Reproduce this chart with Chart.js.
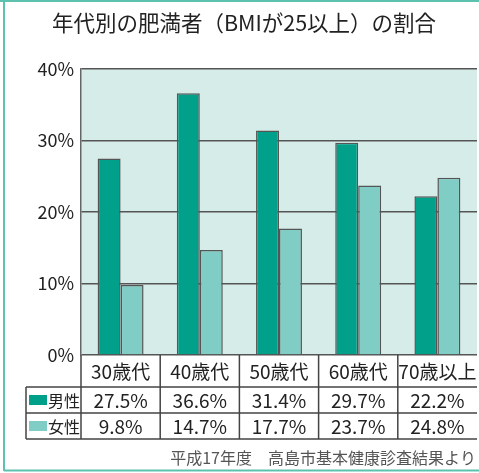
<!DOCTYPE html>
<html>
<head>
<meta charset="utf-8">
<script src="https://cdn.jsdelivr.net/npm/chart.js@4"></script>
<style>
  body { margin: 0; background: #fff; }
  #wrap { width: 479px; height: 473px; }
</style>
</head>
<body>
<div id="wrap"><canvas id="myChart" width="479" height="473"></canvas></div>
<script>
const titulo = '年代別の肥満者（BMIが25以上）の割合'
const fuente = '平成17年度　高島市基本健康診査結果より'

const edades = ['30歳代', '40歳代', '50歳代', '60歳代', '70歳以上']
const nombres = ['男性', '女性']
const valoresHombre = [27.5, 36.6, 31.4, 29.7, 22.2]
const valoresMujer = [9.8, 14.7, 17.7, 23.7, 24.8]
const ticksY = [0, 10, 20, 30, 40]

const colorHombre = '#00a08a'
const colorMujer = '#7fcdc4'
const fontJP = '"Noto Sans CJK JP", "Noto Sans", sans-serif'

// fondo, marco, titulo y la tabla de abajo
const tablaPlugin = {
    id: 'tabla',
    beforeDraw(chart) {
        const c = chart.ctx
        const a = chart.chartArea
        c.save()
        c.fillStyle = '#fff'
        c.fillRect(0, 0, chart.width, chart.height)
        c.fillStyle = '#d6ece9'
        c.fillRect(a.left, a.top, a.right - a.left, a.bottom - a.top)
        c.restore()
    },
    afterDraw(chart) {
        const c = chart.ctx
        const a = chart.chartArea
        const x = chart.scales.x
        c.save()

        // marco exterior
        c.strokeStyle = '#5cc2ae'
        c.lineWidth = 2
        c.beginPath()
        c.moveTo(4, 0); c.lineTo(4, 471)
        c.moveTo(0, 1); c.lineTo(479, 1)
        c.moveTo(4, 470.5); c.lineTo(479, 470.5)
        c.stroke()

        // titulo
        c.fillStyle = '#222'
        c.font = '21.5px ' + fontJP
        c.textAlign = 'center'
        c.textBaseline = 'middle'
        c.fillText(titulo, 244, 23)

        // lineas de la tabla
        const r1 = a.bottom, r2 = 387, r3 = 413, r4 = 439
        const izq = 26
        c.strokeStyle = '#444'
        c.lineWidth = 1.5
        c.beginPath()
        c.moveTo(izq, r2); c.lineTo(a.right, r2)
        c.moveTo(izq, r3); c.lineTo(a.right, r3)
        c.moveTo(izq, r4); c.lineTo(a.right, r4)
        c.moveTo(izq, r2); c.lineTo(izq, r4)
        c.moveTo(a.left, r1); c.lineTo(a.left, r4)
        for (let i = 1; i < edades.length; i++) {
            const bx = (x.getPixelForValue(i - 1) + x.getPixelForValue(i)) / 2
            c.moveTo(bx, r1); c.lineTo(bx, r4)
        }
        c.stroke()

        // textos de la tabla
        c.fillStyle = '#222'
        c.font = '19px ' + fontJP
        edades.forEach((e, i) => {
            const cx = x.getPixelForValue(i)
            c.fillText(e, cx, (r1 + r2) / 2 + 1)
            c.fillText(valoresHombre[i].toFixed(1) + '%', cx, (r2 + r3) / 2 + 1)
            c.fillText(valoresMujer[i].toFixed(1) + '%', cx, (r3 + r4) / 2 + 1)
        })

        // leyenda dentro de la tabla
        const filas = [[(r2 + r3) / 2, colorHombre], [(r3 + r4) / 2, colorMujer]]
        c.font = '16px ' + fontJP
        c.textAlign = 'left'
        filas.forEach((f, i) => {
            c.fillStyle = f[1]
            c.fillRect(29, f[0] - 5, 18, 10)
            c.fillStyle = '#222'
            c.fillText(nombres[i], 48, f[0] + 1)
        })

        // fuente
        c.fillStyle = '#555'
        c.font = '16px ' + fontJP
        c.textAlign = 'right'
        c.fillText(fuente, 476, 458)
        c.restore()
    }
}

const ctx = document.getElementById('myChart')

new Chart(ctx, {
    type: 'bar',
    data: {
        labels: edades,
        datasets: [{
            label: nombres[0],
            data: valoresHombre,
            backgroundColor: colorHombre,
            borderColor: '#555',
            borderWidth: 1.5
        },
        {
            label: nombres[1],
            data: valoresMujer,
            backgroundColor: colorMujer,
            borderColor: '#555',
            borderWidth: 1.5
        }]
    },
    options: {
        responsive: false,
        animation: false,
        devicePixelRatio: 1,
        layout: { padding: { top: 69, bottom: 118, left: 0, right: 2 } },
        categoryPercentage: 0.58,
        barPercentage: 1.0,
        plugins: {
            legend: { display: false },
            tooltip: { enabled: false }
        },
        scales: {
            x: {
                display: false
            },
            y: {
                min: 0,
                max: 40,
                afterFit(scale) { scale.width = 81 },
                afterBuildTicks(scale) { scale.ticks = ticksY.map(v => ({ value: v })) },
                ticks: {
                    padding: 7,
                    color: '#222',
                    font: { size: 18, family: fontJP },
                    callback: v => v + '%'
                },
                grid: { color: '#555', lineWidth: 1.5, drawTicks: false },
                border: { display: true, color: '#666', width: 1.5 }
            }
        }
    },
    plugins: [tablaPlugin]
})
</script>
</body>
</html>
